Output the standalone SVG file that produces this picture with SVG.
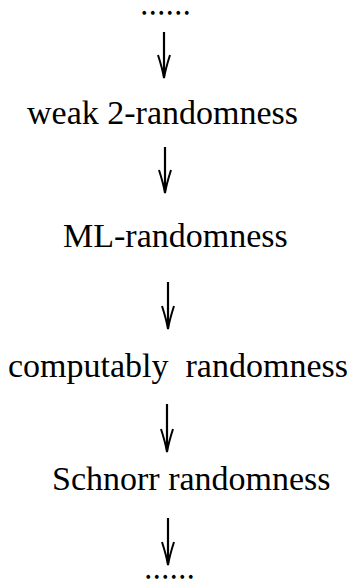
<svg xmlns="http://www.w3.org/2000/svg" width="355" height="581" viewBox="0 0 355 581">
  <style>
    .lbl { font-family: "Liberation Serif", "Times New Roman", serif; font-size: 34px; fill: #000; white-space: pre; }
    /* ellipsis rows: small glyphs, widened by letter-spacing and thickened by a stroke */
    .dots { font-family: "Liberation Serif", "Times New Roman", serif; font-size: 14px; font-weight: bold; letter-spacing: 5px; fill: #000; stroke: #000; stroke-width: 1.5; }
    .shaft { stroke: #000; stroke-width: 2.2; fill: none; }
    .head { stroke: #000; stroke-width: 2; fill: none; stroke-linejoin: miter; }
  </style>
  <defs>
    <!-- open V arrowhead, tip at origin -->
    <path id="vhead" class="head" d="M-6,-23 Q-1.5,-9 0,0 Q1.5,-9 6,-23"/>
  </defs>
  <rect width="355" height="581" fill="#fff"/>

  <g id="dots-top"><text class="dots" x="142.5" y="13.6">......</text></g>
  <g id="weak2"><text class="lbl" x="27" y="124">weak 2-randomness</text></g>
  <g id="ml"><text class="lbl" x="63" y="247">ML-randomness</text></g>
  <g id="computable"><text class="lbl" x="8" y="377" xml:space="preserve">computably  randomness</text></g>
  <g id="schnorr"><text class="lbl" x="52" y="490">Schnorr randomness</text></g>
  <g id="dots-bottom"><text class="dots" x="146.5" y="577.8">......</text></g>

  <g id="connectors">
    <line class="shaft" x1="164" y1="32" x2="164" y2="76"/>
    <use href="#vhead" x="164" y="78"/>
    <line class="shaft" x1="165" y1="147" x2="165" y2="191"/>
    <use href="#vhead" x="165" y="193"/>
    <line class="shaft" x1="168" y1="282" x2="168" y2="327"/>
    <use href="#vhead" x="168" y="329"/>
    <line class="shaft" x1="167" y1="404" x2="167" y2="450"/>
    <use href="#vhead" x="167" y="452"/>
    <line class="shaft" x1="168" y1="518" x2="168" y2="563"/>
    <use href="#vhead" x="168" y="565"/>
  </g>
</svg>
